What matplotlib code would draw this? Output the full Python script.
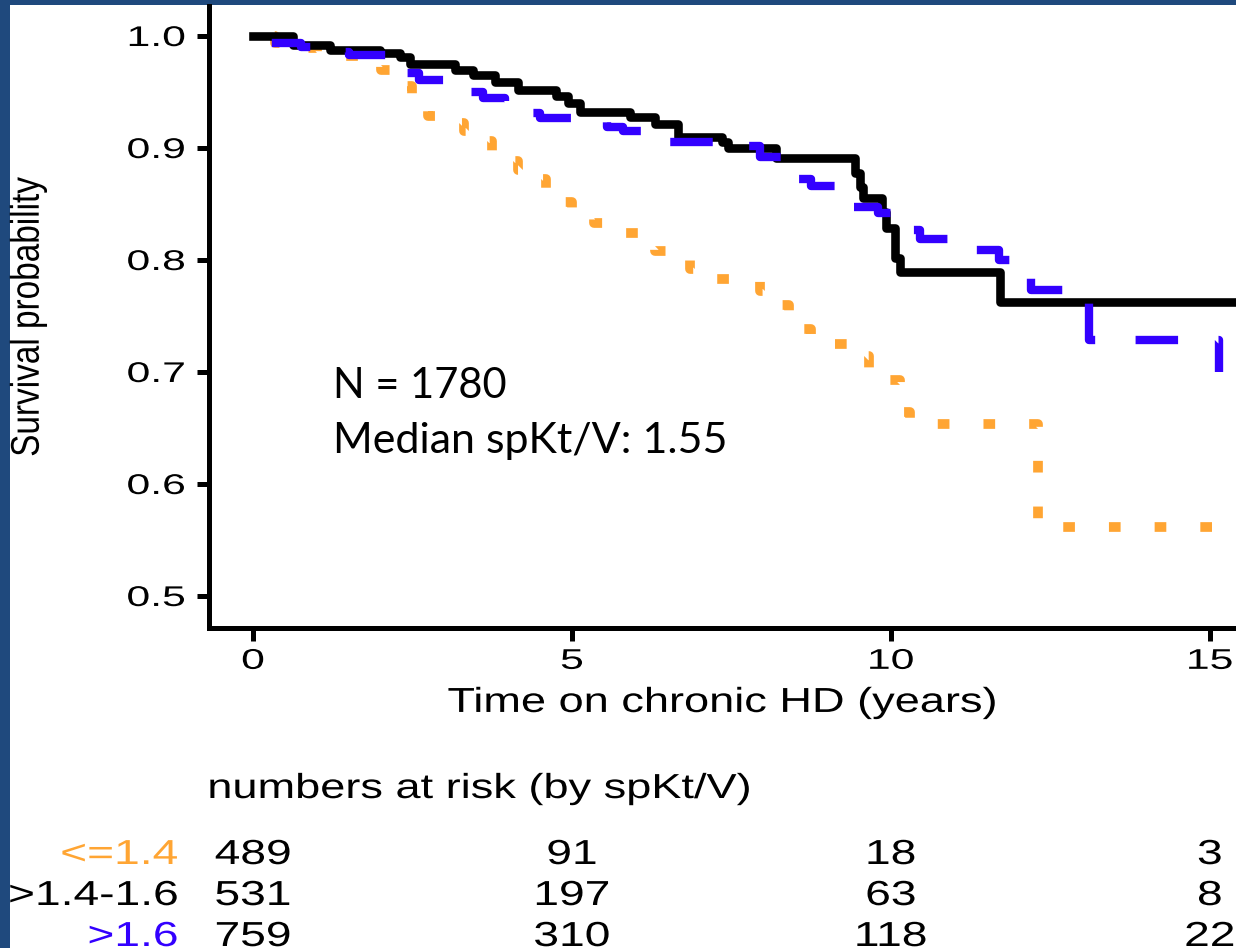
import matplotlib
matplotlib.use('Agg')
import matplotlib.pyplot as plt
from matplotlib.patches import Rectangle
from matplotlib.patheffects import AbstractPathEffect
from matplotlib.transforms import Affine2D, blended_transform_factory

# Kaplan-Meier steps (years, survival probability)
t_low = [0, 0.35, 0.55, 1.0, 1.75, 2.0, 2.15, 2.35, 2.5, 2.65, 2.75, 3.1, 3.3, 3.55,
         3.75, 3.9, 4.15, 4.35, 4.6, 4.8, 5.0, 5.35, 5.75, 6.05, 6.3, 6.65, 6.85, 7.1,
         7.95, 8.1, 8.4, 8.6, 8.75, 9.5, 9.65, 9.9, 10.15, 10.3, 12.3, 15.15]
s_low = [1.0, 0.994, 0.989, 0.982, 0.977, 0.970, 0.963, 0.955, 0.947, 0.937, 0.929,
         0.922, 0.915, 0.906, 0.897, 0.888, 0.880, 0.872, 0.862, 0.852, 0.843, 0.833,
         0.824, 0.816, 0.808, 0.800, 0.792, 0.783, 0.772, 0.760, 0.750, 0.738, 0.725,
         0.714, 0.703, 0.693, 0.664, 0.654, 0.5615, 0.5615]

t_mid = [0, 0.63, 1.21, 1.99, 2.30, 2.46, 3.17, 3.45, 3.79, 4.15, 4.75, 4.94, 5.13,
         5.91, 6.30, 6.66, 7.35, 7.45, 8.20, 9.44, 9.51, 9.56, 9.86, 9.92, 10.06,
         10.14, 11.71, 16.0]
s_mid = [1.0, 0.992, 0.9875, 0.985, 0.981, 0.975, 0.970, 0.965, 0.959, 0.952, 0.946,
         0.940, 0.932, 0.928, 0.921, 0.910, 0.905, 0.900, 0.891, 0.878, 0.865, 0.855,
         0.843, 0.829, 0.802, 0.789, 0.7625, 0.7625]

t_high = [0, 0.1, 0.25, 0.75, 1.0, 1.5, 2.2, 2.4, 2.6, 3.2, 3.4, 3.6, 3.95, 4.5, 5.3,
          5.55, 5.8, 6.3, 7.75, 7.95, 8.45, 8.75, 9.2, 9.8, 10.15, 10.45, 11.2, 11.7,
          12.2, 13.1, 15.15]
s_high = [1.0, 0.997, 0.994, 0.990, 0.986, 0.983, 0.972, 0.967, 0.961, 0.956, 0.950,
          0.945, 0.931, 0.927, 0.923, 0.919, 0.915, 0.905, 0.902, 0.892, 0.872, 0.866,
          0.847, 0.842, 0.827, 0.819, 0.809, 0.800, 0.773, 0.729, 0.700]

group_labels = ['<=1.4', '>1.4-1.6', '>1.6']
risk_times = [0, 5, 10, 15]
risk_low = [489, 91, 18, 3]
risk_mid = [531, 197, 63, 8]
risk_high = [759, 310, 118, 22]

x_ticks = [0, 5, 10, 15]
y_ticks = [0.5, 0.6, 0.7, 0.8, 0.9, 1.0]

ORANGE = '#ffa533'
BLUE = '#3300ff'
SLIDE = '#1f497d'


class Wide(AbstractPathEffect):
    """Draw text stretched sideways (the R plot was stretched on the slide)."""
    def __init__(self, sx, anchor='center'):
        super().__init__()
        self.sx = sx
        self.anchor = anchor

    def draw_path(self, renderer, gc, tpath, affine, rgbFace=None):
        bb = tpath.get_extents(affine)
        x0 = {'left': bb.x0, 'center': 0.5 * (bb.x0 + bb.x1), 'right': bb.x1}[self.anchor]
        aff = affine + Affine2D().translate(-x0, 0).scale(self.sx, 1).translate(x0, 0)
        renderer.draw_path(gc, tpath, aff, rgbFace)


plt.rcParams['font.family'] = ['Liberation Sans', 'DejaVu Sans']

W, H = 1236, 948
fig = plt.figure(figsize=(W / 100, H / 100), dpi=100, facecolor=SLIDE)
fig.patches.append(Rectangle((10 / W, 0), 1, (H - 5) / H, transform=fig.transFigure,
                             facecolor='white', edgecolor='none', zorder=-1))

ax = fig.add_axes([209 / W, 1 - 628 / H, 1 - 209 / W, (628 - 6) / H])
ax.set_facecolor('none')

# dotted / dashed curves are drawn from their right end so the pattern lines up there
ax.plot(t_low[::-1], s_low[::-1], drawstyle='steps-pre', color=ORANGE, lw=7,
        linestyle=(3.98, (1.2, 3.5)), dash_capstyle='butt')
ax.plot(t_mid, s_mid, drawstyle='steps-post', color='black', lw=6.2)
ax.plot(t_high[::-1], s_high[::-1], drawstyle='steps-pre', color=BLUE, lw=6,
        linestyle=(1.2, (5.1, 4.85)), dash_capstyle='butt')

ax.set_xlim(-0.69, 15.41)
ax.set_ylim(0.4714, 1.0268)
ax.set_xticks(x_ticks)
ax.set_yticks(y_ticks)
ax.set_yticklabels([f'{v:.1f}' for v in y_ticks])
for side in ['top', 'right']:
    ax.spines[side].set_visible(False)
for side in ['left', 'bottom']:
    ax.spines[side].set_linewidth(3.6)
ax.tick_params(length=9, width=3.6, labelsize=20.5)
ax.tick_params(axis='y', pad=8)
ax.tick_params(axis='x', pad=6)
for lab in ax.get_yticklabels():
    lab.set_path_effects([Wide(1.5, 'right')])
for lab in ax.get_xticklabels():
    lab.set_path_effects([Wide(1.5, 'center')])

ax.set_xlabel('Time on chronic HD (years)', fontsize=25, labelpad=8)
ax.xaxis.label.set_path_effects([Wide(1.3, 'center')])

fig.text(28.5 / W, 1 - 317 / H, 'Survival probability', rotation=90, fontsize=24,
         ha='center', va='center', path_effects=[Wide(1.2, 'center')])

# annotation added on the slide
fig.text(333 / W, 1 - 398 / H, 'N = 1780', fontsize=30, family='Lato', va='baseline')
fig.text(333 / W, 1 - 453 / H, 'Median spKt/V: 1.55', fontsize=31, family='Lato',
         va='baseline')

# numbers at risk table
fig.text(208 / W, 1 - 798 / H, 'numbers at risk (by spKt/V)', fontsize=25,
         va='baseline', path_effects=[Wide(1.3, 'left')])
trans = blended_transform_factory(ax.transData, fig.transFigure)
rows = [risk_low, risk_mid, risk_high]
colors = [ORANGE, 'black', BLUE]
baselines = [864, 905, 946]
for label, counts, col, yb in zip(group_labels, rows, colors, baselines):
    fig.text(178 / W, 1 - yb / H, label, fontsize=25, color=col, ha='right',
             va='baseline', path_effects=[Wide(1.33, 'right')])
    for t, n in zip(risk_times, counts):
        ax.text(t, 1 - yb / H, str(n), transform=trans, fontsize=25, ha='center',
                va='baseline', clip_on=False, path_effects=[Wide(1.33, 'center')])

fig.savefig('out.png', dpi=100, facecolor=SLIDE)
